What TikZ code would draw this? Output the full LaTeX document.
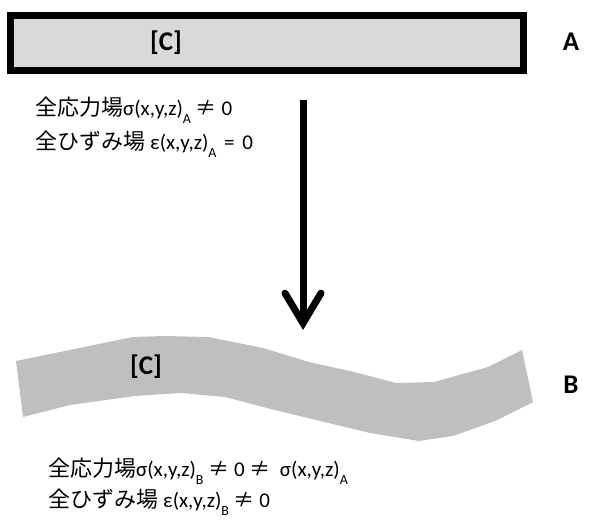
\documentclass[tikz,border=0pt]{standalone}
\usepackage{fontspec}
\setmainfont{Carlito}
\newfontfamily\jpfont{Noto Sans CJK JP}
\usetikzlibrary{arrows.meta}

\newcommand\jptext[1]{{\fontsize{22}{22}\selectfont\jpfont #1}}
\newcommand\lowidx[1]{\raisebox{-8pt}{\fontsize{14}{14}\selectfont #1}}

\begin{document}
\begin{tikzpicture}[x=1pt,y=-1pt,
 bar/.style={draw=black,line width=7pt,fill=black!15,minimum width=513pt,
             minimum height=55pt,inner sep=0pt},
 tag/.style={font=\fontsize{27}{27}\selectfont\bfseries,inner sep=0pt},
 eqn/.style={font=\fontsize{21}{21}\selectfont,anchor=base west,inner sep=0pt},
 move/.style={-{Straight Barb[length=30pt,width=36pt,line cap=round]},line width=7pt}]
\useasboundingbox (0,0) rectangle (597,521);

\node[bar] (plate) at (267,43) {};
\node[tag] (cA) at (166,43) {[C]};
\node[tag] (labA) at (571,42) {A};

\node[eqn] (stressA) at (35,116) {\jptext{全応力場}σ(x,y,z)\lowidx{A} {\jpfont ≠} 0};
\node[eqn] (strainA) at (35,150) {\jptext{全ひずみ場}\hspace{5pt}ε(x,y,z)\lowidx{A}\hspace{3pt} =\hspace{3pt} 0};

\coordinate (top) at (303,100);
\coordinate (tip) at (303,330);
\draw[move] (top) -- (tip);

\fill[black!25] (16,361) -- (133,337) -- (164,336) -- (208,337) -- (263,348)
 -- (309,362) -- (354,372) -- (396,383) -- (434,382) -- (488,367) -- (522,350)
 -- (533,402) -- (495,421) -- (453,436) -- (419,441) -- (370,433) -- (316,420)
 -- (267,408) -- (225,397) -- (181,393) -- (135,396) -- (70,405) -- (23,417) -- cycle;
\node[tag] (cB) at (146,367) {[C]};
\node[tag] (labB) at (571,385) {B};

\node[eqn] (stressB) at (48,476) {\jptext{全応力場}σ(x,y,z)\lowidx{B} {\jpfont ≠} 0 {\jpfont ≠}\ \ σ(x,y,z)\lowidx{A}};
\node[eqn] (strainB) at (48,507) {\jptext{全ひずみ場}\hspace{5pt}ε(x,y,z)\lowidx{B} {\jpfont ≠} 0};
\end{tikzpicture}
\end{document}
